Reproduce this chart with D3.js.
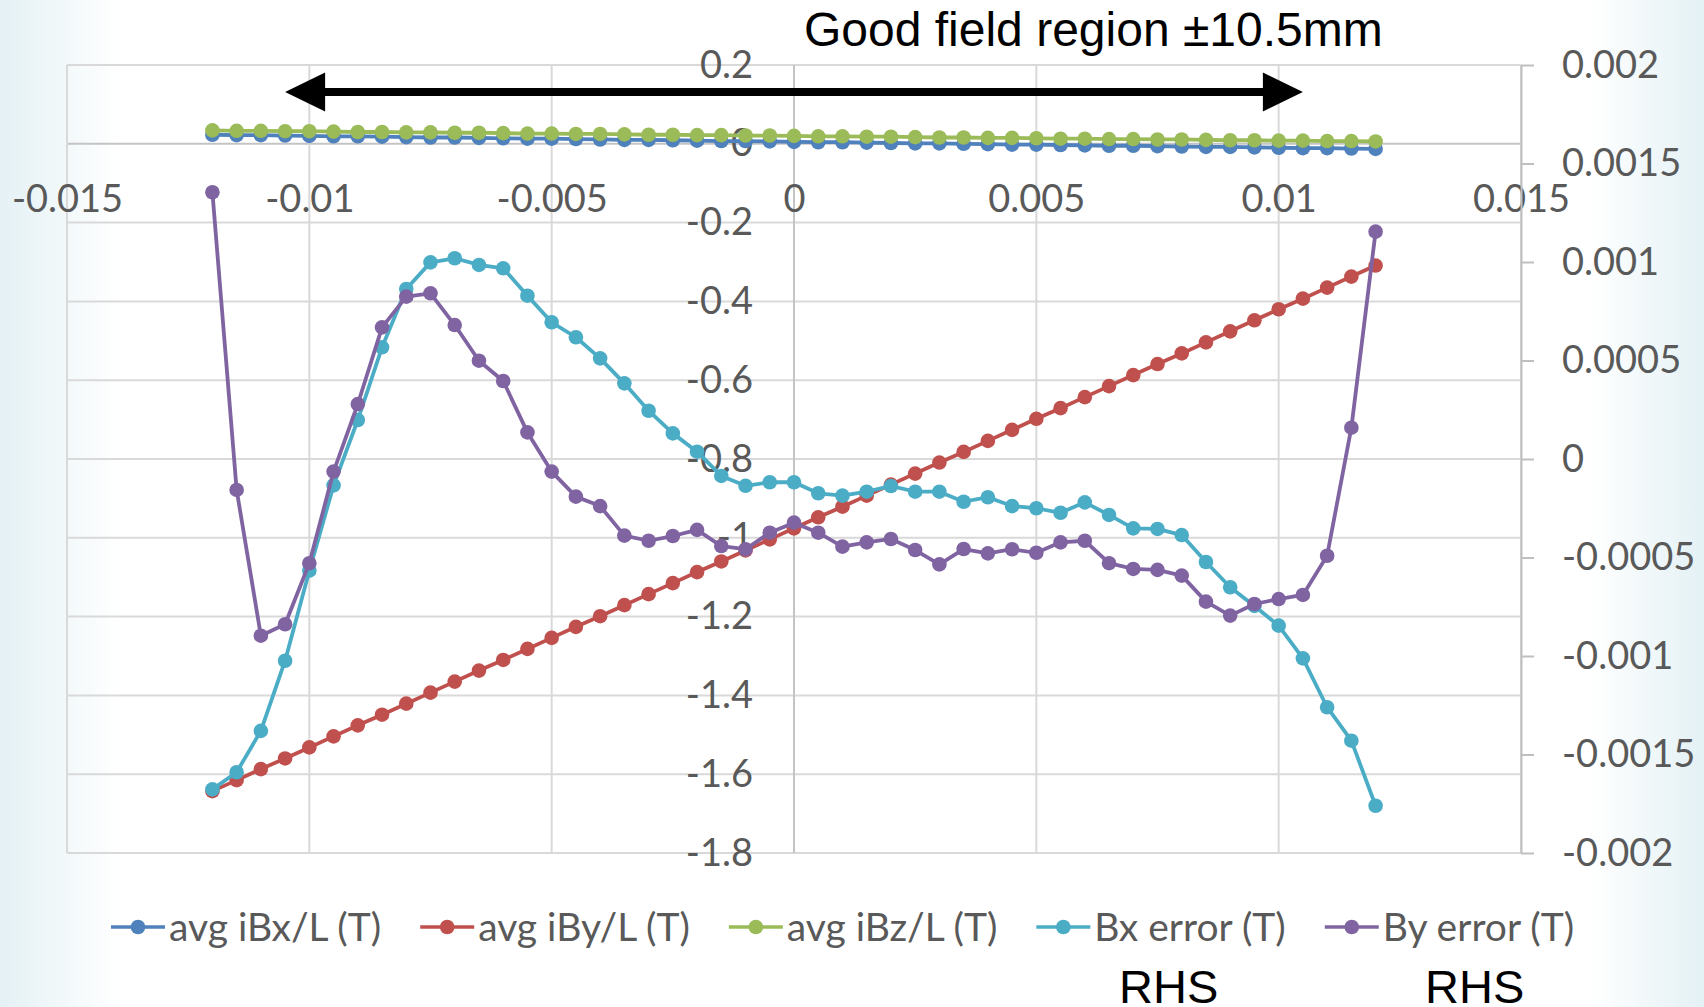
<!DOCTYPE html>
<html>
<head>
<meta charset="utf-8">
<script src="https://cdn.jsdelivr.net/npm/d3@7"></script>
<style>
html, body { margin:0; padding:0; }
body {
  width:1704px; height:1007px; overflow:hidden;
  background: linear-gradient(to right, #e4f1f5 0px, #ffffff 120px, #ffffff 1590px, #e4f1f5 1704px);
}
svg text { font-family: Lato, "Noto Sans", sans-serif; }
</style>
</head>
<body>
<div id="plotDiv"></div>
<script>
// --- data ---
const xValues = [-0.012, -0.0115, -0.011, -0.0105, -0.01, -0.0095, -0.009, -0.0085, -0.008, -0.0075,
  -0.007, -0.0065, -0.006, -0.0055, -0.005, -0.0045, -0.004, -0.0035, -0.003, -0.0025,
  -0.002, -0.0015, -0.001, -0.0005, 0, 0.0005, 0.001, 0.0015, 0.002, 0.0025,
  0.003, 0.0035, 0.004, 0.0045, 0.005, 0.0055, 0.006, 0.0065, 0.007, 0.0075,
  0.008, 0.0085, 0.009, 0.0095, 0.01, 0.0105, 0.011, 0.0115, 0.012];

const avgBx = [0.023, 0.022, 0.022, 0.021, 0.020, 0.019, 0.019, 0.018, 0.017, 0.016,
  0.016, 0.015, 0.014, 0.013, 0.013, 0.012, 0.011, 0.010, 0.010, 0.009,
  0.008, 0.007, 0.007, 0.006, 0.005, 0.004, 0.004, 0.003, 0.002, 0.001,
  0.001, 0.000, -0.001, -0.002, -0.002, -0.003, -0.004, -0.005, -0.005, -0.006,
  -0.007, -0.008, -0.008, -0.009, -0.010, -0.011, -0.011, -0.012, -0.013];

const avgBy = [-1.643, -1.615, -1.587, -1.560, -1.532, -1.504, -1.476, -1.449, -1.421, -1.393,
  -1.365, -1.337, -1.310, -1.282, -1.254, -1.226, -1.199, -1.171, -1.143, -1.115,
  -1.087, -1.060, -1.032, -1.004, -0.976, -0.948, -0.921, -0.893, -0.865, -0.837,
  -0.809, -0.782, -0.754, -0.726, -0.698, -0.671, -0.643, -0.615, -0.587, -0.559,
  -0.532, -0.504, -0.476, -0.448, -0.420, -0.393, -0.365, -0.337, -0.309];

const avgBz = [0.034, 0.033, 0.033, 0.032, 0.032, 0.031, 0.030, 0.030, 0.029, 0.029,
  0.028, 0.028, 0.027, 0.026, 0.026, 0.025, 0.025, 0.024, 0.023, 0.023,
  0.022, 0.022, 0.021, 0.021, 0.020, 0.019, 0.019, 0.018, 0.018, 0.017,
  0.016, 0.016, 0.015, 0.015, 0.014, 0.013, 0.013, 0.012, 0.012, 0.011,
  0.011, 0.010, 0.009, 0.009, 0.008, 0.008, 0.007, 0.007, 0.006];

// right hand axis series
const bxError = [-0.001677, -0.00159, -0.00138, -0.001024, -0.000567, -0.000134, 0.000198, 0.000567, 0.000863, 0.000998,
  0.001019, 0.000985, 0.000968, 0.000829, 0.000694, 0.000618, 0.000511, 0.000384, 0.000245, 0.000130,
  0.000037, -0.000086, -0.000136, -0.000118, -0.000118, -0.000174, -0.000186, -0.000166, -0.000137, -0.000166,
  -0.000166, -0.000217, -0.000194, -0.000239, -0.000250, -0.000273, -0.000220, -0.000284, -0.000352, -0.000355,
  -0.000386, -0.000523, -0.000651, -0.000746, -0.000846, -0.001012, -0.00126, -0.00143, -0.00176];

const byError = [0.001354, -0.000157, -0.000897, -0.000839, -0.000529, -0.000064, 0.000279, 0.000668, 0.000824, 0.000841,
  0.000680, 0.000499, 0.000396, 0.000135, -0.000064, -0.000191, -0.000239, -0.000389, -0.000415, -0.000391,
  -0.000360, -0.000442, -0.000458, -0.000374, -0.000323, -0.000374, -0.000445, -0.000423, -0.000406, -0.000462,
  -0.000535, -0.000457, -0.000479, -0.000458, -0.000476, -0.000423, -0.000415, -0.000529, -0.000558, -0.000563,
  -0.000592, -0.000724, -0.000795, -0.000736, -0.000711, -0.000690, -0.000491, 0.000159, 0.001154];

const xTicks = [-0.015, -0.01, -0.005, 0, 0.005, 0.01, 0.015];
const xTickLabels = ["-0.015", "-0.01", "-0.005", "0", "0.005", "0.01", "0.015"];
const yLeftTicks = [0.2, 0, -0.2, -0.4, -0.6, -0.8, -1, -1.2, -1.4, -1.6, -1.8];
const yLeftTickLabels = ["0.2", "0", "-0.2", "-0.4", "-0.6", "-0.8", "-1", "-1.2", "-1.4", "-1.6", "-1.8"];
const yRightTicks = [0.002, 0.0015, 0.001, 0.0005, 0, -0.0005, -0.001, -0.0015, -0.002];
const yRightTickLabels = ["0.002", "0.0015", "0.001", "0.0005", "0", "-0.0005", "-0.001", "-0.0015", "-0.002"];

const seriesNames = ["avg iBx/L (T)", "avg iBy/L (T)", "avg iBz/L (T)", "Bx error (T)", "By error (T)"];
const goodField = [-0.0105, 0.0105];

// --- layout ---
const width = 1704, height = 1007;
const plot = {left:67, right:1521, top:65, bottom:853};
const colors = ["#4f81bd", "#c0504d", "#9bbb59", "#4bacc6", "#8064a2"];
const labelColor = "#595959";
const fontSize = 38;
const legendFontSize = 39;
const markerR = 7.3;

const svg = d3.select("#plotDiv").append("svg")
  .attr("width", width).attr("height", height);

// scales
const x = d3.scaleLinear().domain([-0.015, 0.015]).range([plot.left, plot.right]);
const yL = d3.scaleLinear().domain([-1.8, 0.2]).range([plot.bottom, plot.top]);
const yR = d3.scaleLinear().domain([-0.002, 0.002]).range([plot.bottom, plot.top]);

// gridlines
const grid = svg.append("g");
grid.selectAll(".hgrid").data(yLeftTicks).join("line")
  .attr("x1", plot.left).attr("x2", plot.right)
  .attr("y1", d => yL(d)).attr("y2", d => yL(d))
  .attr("stroke", d => d === 0 ? "#c4c4c4" : "#d9d9d9").attr("stroke-width", 2);
grid.selectAll(".vgrid").data(xTicks).join("line")
  .attr("x1", d => x(d)).attr("x2", d => x(d))
  .attr("y1", plot.top).attr("y2", plot.bottom)
  .attr("stroke", d => d === 0 ? "#c4c4c4" : "#d9d9d9").attr("stroke-width", 2);

// x axis, crosses at y = 0
const xAxis = svg.append("g")
  .attr("transform", `translate(0,${yL(0)})`)
  .call(d3.axisBottom(x).tickValues(xTicks).tickSize(0).tickPadding(41)
    .tickFormat((d, i) => xTickLabels[i]));

// left axis, crosses at x = 0
const yAxisL = svg.append("g")
  .attr("transform", `translate(${x(0)},0)`)
  .call(d3.axisLeft(yL).tickValues(yLeftTicks).tickSize(0).tickPadding(41)
    .tickFormat((d, i) => yLeftTickLabels[i]));

// right axis
const yAxisR = svg.append("g")
  .attr("transform", `translate(${plot.right},0)`)
  .call(d3.axisRight(yR).tickValues(yRightTicks).tickSize(13).tickSizeOuter(0).tickPadding(28)
    .tickFormat((d, i) => yRightTickLabels[i]));

[xAxis, yAxisL].forEach(g => g.select(".domain").remove());
yAxisR.select(".domain").attr("stroke", "#bfbfbf").attr("stroke-width", 2);
yAxisR.selectAll(".tick line").attr("stroke", "#bfbfbf").attr("stroke-width", 2);
[xAxis, yAxisL, yAxisR].forEach(g => {
  g.attr("font-family", null).attr("font-size", null);
  g.selectAll("text").style("font-size", fontSize + "px").attr("fill", labelColor);
});

// --- series ---
const seriesData = [
  {values: avgBx, y: yL},
  {values: avgBy, y: yL},
  {values: avgBz, y: yL},
  {values: bxError, y: yR},
  {values: byError, y: yR}
];

seriesData.forEach((s, k) => {
  const line = d3.line().x((d, i) => x(xValues[i])).y(d => s.y(d));
  const g = svg.append("g");
  g.append("path").datum(s.values)
    .attr("d", line)
    .attr("fill", "none")
    .attr("stroke", colors[k])
    .attr("stroke-width", 3.8)
    .attr("stroke-linejoin", "round");
  g.selectAll("circle").data(s.values).join("circle")
    .attr("cx", (d, i) => x(xValues[i]))
    .attr("cy", d => s.y(d))
    .attr("r", markerR)
    .attr("fill", colors[k]);
});

// --- good field arrow ---
const arrowY = 92, headLen = 40, headHalf = 19.5;
const ax0 = x(goodField[0]), ax1 = x(goodField[1]);
svg.append("line")
  .attr("x1", ax0 + headLen - 2).attr("x2", ax1 - headLen + 2)
  .attr("y1", arrowY).attr("y2", arrowY)
  .attr("stroke", "#000").attr("stroke-width", 8);
svg.append("path")
  .attr("d", `M${ax0},${arrowY}L${ax0 + headLen},${arrowY - headHalf}L${ax0 + headLen},${arrowY + headHalf}Z`)
  .attr("fill", "#000");
svg.append("path")
  .attr("d", `M${ax1},${arrowY}L${ax1 - headLen},${arrowY - headHalf}L${ax1 - headLen},${arrowY + headHalf}Z`)
  .attr("fill", "#000");

svg.append("text")
  .attr("x", 804).attr("y", 46)
  .style("font-family", "'Liberation Sans', Arial, sans-serif")
  .style("font-size", "48px")
  .attr("fill", "#000")
  .text("Good field region \u00b110.5mm");

// --- legend ---
const legend = svg.append("g").attr("transform", "translate(0,927)");
let lx = 111;
seriesNames.forEach((name, k) => {
  const item = legend.append("g").attr("transform", `translate(${lx},0)`);
  item.append("line").attr("x1", 0).attr("x2", 54).attr("y1", 0).attr("y2", 0)
    .attr("stroke", colors[k]).attr("stroke-width", 3.5);
  item.append("circle").attr("cx", 27).attr("cy", 0).attr("r", markerR).attr("fill", colors[k]);
  const t = item.append("text").attr("x", 58).attr("dy", "0.35em")
    .style("font-size", legendFontSize + "px").attr("fill", labelColor).text(name);
  lx += 58 + t.node().getComputedTextLength() + 39;
});

// RHS notes under the two error series
[["RHS", 1119], ["RHS", 1425]].forEach(([txt, px]) => {
  svg.append("text").attr("x", px).attr("y", 1003)
    .style("font-family", "'Liberation Sans', Arial, sans-serif")
    .style("font-size", "47px").attr("fill", "#000").text(txt);
});
</script>
</body>
</html>
